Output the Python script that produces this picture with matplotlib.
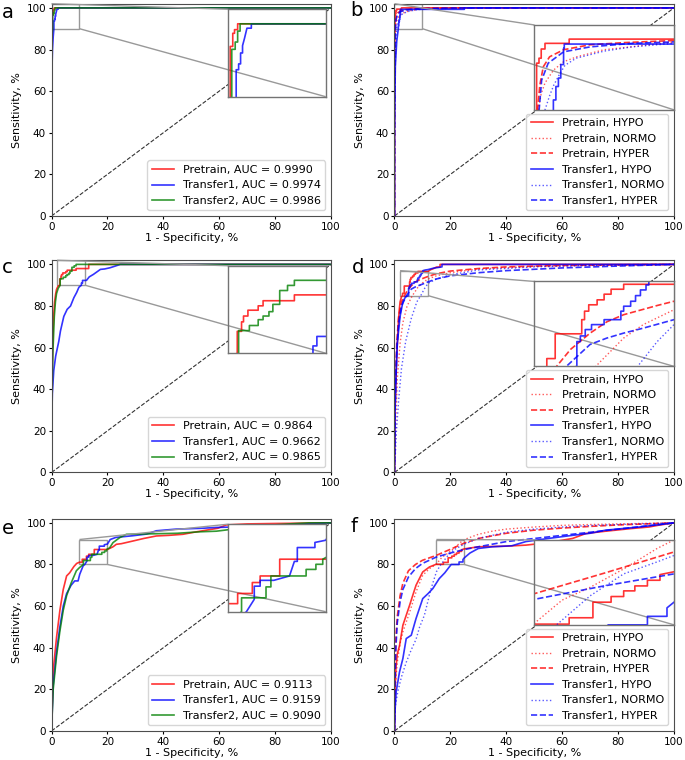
import matplotlib
matplotlib.use("Agg")
import matplotlib.pyplot as plt
from mpl_toolkits.axes_grid1.inset_locator import mark_inset

# ---- panel a ----
a_pre_fpr = [0, 0, 0.1, 0.24, 0.24, 0.5, 0.5, 0.68, 0.68, 1.0, 1.0, 100]
a_pre_tpr = [0, 70, 86, 90, 96.9, 96.9, 98.7, 98.7, 99.2, 99.2, 100, 100]
a_tr1_fpr = [0, 0, 0.15, 0.35, 0.6, 0.85, 0.85, 1.1, 1.1, 1.3, 1.3, 1.5, 1.5, 1.7, 1.95, 2.4, 2.4, 100]
a_tr1_tpr = [0, 63, 70, 80, 86, 90, 93.7, 93.7, 94.5, 94.5, 96, 96, 97, 98, 99.4, 99.4, 100, 100]
a_tr2_fpr = [0, 0, 0.05, 0.4, 0.4, 0.75, 0.75, 1.0, 1.0, 1.25, 1.25, 100]
a_tr2_tpr = [0, 78, 85, 90, 96.5, 96.5, 97.5, 97.5, 99.0, 99.0, 100, 100]

# ---- panel b ----
b_pre_hypo_fpr = [0, 0, 0.1, 0.17, 0.17, 0.34, 0.34, 0.5, 0.5, 0.77, 0.77, 2.5, 2.5, 100]
b_pre_hypo_tpr = [0, 75, 85, 90, 96.6, 96.6, 97.3, 97.3, 98.6, 98.6, 99.4, 99.4, 100, 100]
b_pre_normo_fpr = [0, 0.05, 0.15, 0.29, 0.5, 0.77, 1.37, 2.1, 3.05, 5, 6.9, 10, 15, 25, 40, 100]
b_pre_normo_tpr = [0, 55, 78, 90, 92.3, 93.8, 95.6, 96.8, 97.5, 98.5, 98.9, 99.6, 99.8, 99.9, 100, 100]
b_pre_hyper_fpr = [0, 0.03, 0.1, 0.2, 0.24, 0.4, 0.65, 1.1, 2.1, 4, 6.4, 10, 15, 25, 100]
b_pre_hyper_tpr = [0, 60, 80, 88, 90, 93.5, 96.1, 97.5, 98.5, 99.2, 99.5, 99.8, 99.9, 100, 100]
b_tr1_hypo_fpr = [0, 0, 0.3, 0.8, 1.37, 1.37, 1.55, 1.55, 1.73, 1.73, 1.9, 1.9, 2.1, 2.1, 2.15, 2.15, 25, 25, 100]
b_tr1_hypo_tpr = [0, 40, 72, 84, 90, 91.4, 91.4, 93.3, 93.3, 94.5, 94.5, 96.4, 96.4, 98.7, 98.7, 99.3, 99.3, 100, 100]
b_tr1_normo_fpr = [0, 0.05, 0.2, 0.4, 0.6, 0.77, 1.1, 1.4, 1.8, 2.2, 3, 5, 7, 10, 20, 40, 100]
b_tr1_normo_tpr = [0, 40, 65, 80, 86, 90, 92, 93.5, 95, 96.3, 97.3, 98.3, 98.9, 99.4, 99.8, 100, 100]
b_tr1_hyper_fpr = [0, 0.03, 0.1, 0.25, 0.35, 0.53, 1.0, 2.1, 4, 7, 10, 15, 25, 100]
b_tr1_hyper_tpr = [0, 50, 75, 86, 90, 94.2, 96.6, 98.2, 98.9, 99.4, 99.6, 99.8, 100, 100]

# ---- panel c ----
c_pre_fpr = [0, 0.1, 0.2, 0.4, 0.6, 0.8, 1.1, 1.5, 1.8, 2.3, 2.96, 2.96, 3.4, 3.4, 3.6, 3.6,
             4.05, 4.05, 5.1, 5.1, 5.6, 5.6, 8.8, 8.8, 13.3, 13.3, 100]
c_pre_tpr = [0, 30, 45, 60, 70, 76, 82, 86, 88, 89.5, 90, 93.0, 93.0, 94.3, 94.3, 95.1,
             95.1, 95.9, 95.9, 96.5, 96.5, 97.2, 97.2, 98.0, 98.0, 100, 100]
c_tr1_fpr = [0, 0.1, 0.3, 0.8, 1.5, 2.6, 3.2, 4.4, 5.6, 6.8, 8, 9, 9.8, 10.7, 10.7, 11.1, 11.1,
             12.5, 13.5, 15, 17.5, 19, 21, 23.5, 24.6, 100]
c_tr1_tpr = [0, 25, 38, 49, 56, 63, 68, 75, 78.4, 80, 84, 86.5, 89, 90, 91, 91, 92.3,
             92.3, 94, 95.2, 97.6, 97.8, 98.4, 99.5, 100, 100]
c_tr2_fpr = [0, 0.1, 0.3, 0.5, 0.8, 1.0, 1.4, 1.8, 2.4, 3.1, 3.1, 4.2, 4.2, 5.1, 5.1, 5.6, 5.6,
             6.2, 6.2, 6.6, 6.6, 7.3, 7.3, 8.1, 8.1, 8.8, 8.8, 100]
c_tr2_tpr = [0, 25, 45, 58, 68, 75, 82, 86, 88.5, 90, 93.1, 93.1, 93.8, 93.8, 94.6, 94.6, 95.1,
             95.1, 95.7, 95.7, 96.7, 96.7, 98.6, 98.6, 99.3, 99.3, 100, 100]

# ---- panel d ----
d_pre_hypo_fpr = [0, 0.2, 0.5, 0.8, 1.1, 1.4, 1.7, 2, 2.5, 2.9, 2.9, 3.5, 3.5, 5.4, 5.4, 5.6, 5.6,
                  5.9, 5.9, 6.5, 6.5, 7.0, 7.0, 7.5, 7.5, 8.4, 8.4, 12, 13, 14, 15, 16.3, 16.3, 100]
d_pre_hypo_tpr = [0, 30, 45, 56, 64, 72, 78, 82, 84.5, 85, 86.1, 86.1, 89.6, 89.6, 91.6, 91.6, 92.8,
                  92.8, 93.7, 93.7, 94.4, 94.4, 95.2, 95.2, 95.9, 95.9, 96.6, 96.6, 97.5, 98, 98.7, 98.7, 100, 100]
d_pre_normo_fpr = [0, 0.5, 1, 2, 3, 4.5, 6.4, 8.4, 9.8, 12, 15, 20, 30, 50, 70, 100]
d_pre_normo_tpr = [0, 25, 45, 62, 72, 80, 85, 89, 90.9, 93, 94.5, 96, 97.8, 99, 99.6, 100]
d_pre_hyper_fpr = [0, 0.3, 0.8, 1.5, 2.5, 3.6, 4.6, 6, 7.2, 8.4, 10.8, 12, 15, 20, 30, 40, 60, 80, 100]
d_pre_hyper_tpr = [0, 40, 62, 75, 82, 85, 87.4, 89.7, 91.3, 92.3, 93.6, 94.2, 95.5, 96.8, 98, 98.8, 99.5, 99.8, 100]
d_tr1_hypo_fpr = [0, 0.2, 0.5, 1, 2, 3, 4, 5.05, 5.05, 5.3, 5.3, 5.65, 5.65, 6.1, 6.1, 7, 7, 8.2, 8.2,
                  8.4, 8.4, 8.9, 8.9, 9.25, 9.25, 9.6, 9.6, 10, 10, 10.2, 10.2, 11, 12, 14, 17, 17, 100]
d_tr1_hypo_tpr = [0, 30, 45, 62, 75, 82, 84.5, 85, 88.5, 88.5, 89.3, 89.3, 90.2, 90.2, 90.9, 90.9, 91.6, 91.6, 92.8,
                  92.8, 93.5, 93.5, 94.2, 94.2, 95, 95, 95.8, 95.8, 96.5, 96.5, 97, 97.3, 97.5, 98.2, 98.8, 100, 100]
d_tr1_normo_fpr = [0, 0.7, 1.5, 2.5, 4, 6, 8, 9.4, 10.8, 12, 15, 20, 30, 50, 70, 100]
d_tr1_normo_tpr = [0, 20, 35, 50, 63, 74, 82, 85, 88.5, 90.9, 93, 95, 97.3, 98.8, 99.5, 100]
d_tr1_hyper_fpr = [0, 0.3, 0.8, 1.5, 2.5, 4.3, 6, 7.2, 8.4, 9.8, 12, 15, 20, 30, 40, 60, 80, 100]
d_tr1_hyper_tpr = [0, 35, 58, 72, 80, 85, 88.1, 89, 89.7, 90.4, 91.6, 93, 94.5, 96, 97, 98.3, 99.2, 100]

# ---- panel e ----
e_pre_fpr = [0, 0.6, 1.8, 3, 4.2, 5.4, 6.5, 8, 9, 10, 11, 11, 12.5, 12.5, 13.3, 13.3, 15.3, 15.3,
             20, 22, 23.2, 25, 29.2, 33, 37.5, 42, 47, 50.6, 55.4, 59.5, 62.5, 70, 80, 100]
e_pre_tpr = [0, 29, 45, 58, 68, 74.5, 76, 79, 80.5, 81.1, 81.1, 82.5, 82.5, 84, 84, 84.9, 84.9, 87.2,
             87.2, 88.5, 89.7, 90, 91.3, 92.5, 93.7, 94, 94.5, 95.4, 96.5, 97.4, 99, 99.5, 99.7, 100]
e_tr1_fpr = [0, 0.6, 1.8, 3, 4.2, 5.4, 7, 8.3, 9.5, 10.1, 11.3, 11.9, 12.7, 12.7, 13.3, 13.3, 14.7,
             16.3, 16.8, 17.1, 17.1, 18.9, 18.9, 20, 21, 23, 29, 34, 37.5, 44.6, 54, 59, 65, 77, 89, 100]
e_tr1_tpr = [0, 22, 38, 50, 60, 66, 70, 72.1, 72.1, 75.3, 79.3, 80, 81.7, 83.5, 83.5, 84.3, 84.3,
             84.9, 86.9, 86.9, 88.8, 88.8, 89.5, 89.8, 92, 93, 93.8, 94.6, 96.2, 97, 97.4, 97.8, 98, 98.6, 99.4, 100]
e_tr2_fpr = [0, 0.6, 1.8, 3, 4.2, 5.4, 7, 8.9, 10, 11.4, 11.4, 13.9, 13.9, 14.4, 14.4, 18, 18, 19, 19,
             19.7, 19.7, 20.8, 22, 24.4, 26.8, 35, 45, 53, 59, 65, 74, 85, 92, 100]
e_tr2_tpr = [0, 20, 36, 48, 58, 65, 71, 77, 78.5, 80, 81.9, 81.9, 83.4, 83.4, 84.9, 84.9, 85.8, 85.8, 86.5,
             86.5, 87.2, 88, 90.5, 92.9, 94.5, 94.7, 95, 95.7, 96, 97, 98.5, 99.5, 100, 100]

# ---- panel f ----
f_pre_hypo_fpr = [0, 0.2, 0.5, 1, 1.8, 3, 4.2, 5.4, 6.5, 7.7, 8.9, 10.1, 12.5, 14.9, 17.5, 17.5, 19.2, 19.2,
                  20.5, 20.5, 21.4, 21.4, 22.2, 22.2, 23.1, 23.1, 24, 24, 25, 30, 40, 47, 55, 63.7, 68.5,
                  75.6, 85, 91, 94.6, 100]
f_pre_hypo_tpr = [0, 20, 30, 37, 41, 50.8, 55.6, 60.4, 65, 70, 73.2, 76.4, 78.8, 80.1, 80.1, 81, 81, 83.2,
                  83.2, 84, 84, 84.8, 84.8, 85.5, 85.5, 86.3, 86.3, 87.1, 87.5, 88.5, 88.8, 89.3, 90.5, 92.5, 94.9,
                  96, 97.3, 98, 98.9, 100]
f_pre_normo_fpr = [0, 0.2, 0.5, 1, 2, 3, 5.4, 7.7, 10.1, 12.5, 15, 17, 19, 21.4, 23.8, 25, 30, 35, 40, 50, 60, 70, 80, 100]
f_pre_normo_tpr = [0, 15, 25, 33, 42, 47.6, 57, 66.8, 74.8, 78, 80.2, 83.5, 85.3, 87.9, 90.8, 92, 94.5, 96, 97,
                   98, 98.8, 99.2, 99.5, 100]
f_pre_hyper_fpr = [0, 0.2, 0.5, 1, 2, 3, 5, 7.5, 10, 15, 20, 25, 30, 40, 50, 60, 70, 80, 90, 100]
f_pre_hyper_tpr = [0, 30, 45, 55, 65, 71, 77, 80, 82, 84.4, 87.3, 90.3, 92.5, 95, 96.5, 97.5, 98.3, 99, 99.5, 100]
f_tr1_hypo_fpr = [0, 0.2, 0.6, 1.8, 3, 4.2, 6, 7.7, 10.1, 12, 13.7, 16, 18, 19.6, 20.3, 23.1, 23.1,
                  24.5, 24.5, 25, 27, 30, 35, 42, 47, 55, 63.7, 70, 75.6, 87.5, 100]
f_tr1_hypo_tpr = [0, 10, 18.8, 28.4, 34.8, 44.4, 46, 54, 63.6, 66, 68.4, 73.2, 76, 78.8, 80, 80, 81.2,
                  81.2, 82.4, 83.2, 85.5, 87.7, 88.5, 89, 91, 92.5, 94, 95, 96.5, 98, 100]
f_tr1_normo_fpr = [0, 0.3, 1.2, 2.5, 4.2, 6, 7.7, 9, 10.7, 13, 15, 16.6, 19, 21.4, 23.8, 25, 30, 40, 50,
                   60, 70, 80, 100]
f_tr1_normo_tpr = [0, 12, 19, 26, 33, 39, 44, 50, 55.6, 68, 76.5, 80, 84.1, 87.2, 88.9, 89.8, 92.5, 95.5, 97,
                   98, 98.7, 99.2, 100]
f_tr1_hyper_fpr = [0, 0.2, 0.5, 1, 2, 3, 5, 7.5, 10, 15, 20, 25, 30, 40, 50, 60, 70, 80, 90, 100]
f_tr1_hyper_tpr = [0, 25, 40, 52, 62, 68, 74, 78, 80.5, 83.6, 85.5, 87.2, 88.5, 91, 92.5, 94, 95.5, 97, 98.5, 100]

auc_a = ["0.9990", "0.9974", "0.9986"]
auc_c = ["0.9864", "0.9662", "0.9865"]
auc_e = ["0.9113", "0.9159", "0.9090"]
models3 = ["Pretrain", "Transfer1", "Transfer2"]
classes = ["HYPO", "NORMO", "HYPER"]

three_styles = [("red", "-"), ("blue", "-"), ("green", "-")]
six_styles = [("red", "-"), ("red", ":"), ("red", "--"), ("blue", "-"), ("blue", ":"), ("blue", "--")]


def six_labels():
    return [m + ", " + c for m in ["Pretrain", "Transfer1"] for c in classes]


def line_kw(col, ls):
    # dotted curves look thinner / lighter in the original
    if ls == ":":
        return dict(color=col, ls=ls, lw=1.0, alpha=0.65)
    return dict(color=col, ls=ls, lw=1.2, alpha=0.8)


def draw_panel(ax, curves, labels, styles, zoom, inset_pos):
    ax.plot([0, 100], [0, 100], "k--", lw=0.8, alpha=0.8)
    for (x, y), lab, (col, ls) in zip(curves, labels, styles):
        ax.plot(x, y, label=lab, **line_kw(col, ls))
    ax.set_xlim(0, 100)
    ax.set_ylim(0, 102)
    ax.set_xticks(range(0, 101, 20))
    ax.set_yticks(range(0, 101, 20))
    ax.tick_params(labelsize=7.5, length=2.5, pad=1.5)
    ax.set_xlabel("1 - Specificity, %", fontsize=8, labelpad=1)
    ax.set_ylabel("Sensitivity, %", fontsize=8, labelpad=3)
    for sp in ax.spines.values():
        sp.set_color("0.3")

    axins = ax.inset_axes(inset_pos)
    for (x, y), (col, ls) in zip(curves, styles):
        axins.plot(x, y, **line_kw(col, ls))
    axins.set_xlim(zoom[0], zoom[1])
    axins.set_ylim(zoom[2], zoom[3])
    axins.set_xticks([])
    axins.set_yticks([])
    for sp in axins.spines.values():
        sp.set_color("0.45")
        sp.set_linewidth(1.0)
    mark_inset(ax, axins, loc1=2, loc2=4, fc="none", ec="0.6", lw=1.0)

    leg = ax.legend(loc="lower right", fontsize=8)
    leg.set_zorder(10)


fig = plt.figure(figsize=(6.85, 7.6), dpi=100)
col_left = [0.0752, 0.5759]
row_bottom = [0.7158, 0.3783, 0.0382]
w, h = 0.408, 0.2793
small_inset = [0.631, 0.562, 0.35, 0.412]
wide_inset = [0.5, 0.5, 0.5, 0.4]

panels = [
    ("a", 0, 0, [(a_pre_fpr, a_pre_tpr), (a_tr1_fpr, a_tr1_tpr), (a_tr2_fpr, a_tr2_tpr)],
     [m + ", AUC = " + v for m, v in zip(models3, auc_a)], three_styles, (0, 10, 90, 102), small_inset),
    ("b", 0, 1, [(b_pre_hypo_fpr, b_pre_hypo_tpr), (b_pre_normo_fpr, b_pre_normo_tpr),
                 (b_pre_hyper_fpr, b_pre_hyper_tpr), (b_tr1_hypo_fpr, b_tr1_hypo_tpr),
                 (b_tr1_normo_fpr, b_tr1_normo_tpr), (b_tr1_hyper_fpr, b_tr1_hyper_tpr)],
     six_labels(), six_styles, (0, 10, 90, 102), wide_inset),
    ("c", 1, 0, [(c_pre_fpr, c_pre_tpr), (c_tr1_fpr, c_tr1_tpr), (c_tr2_fpr, c_tr2_tpr)],
     [m + ", AUC = " + v for m, v in zip(models3, auc_c)], three_styles, (2, 12, 90, 102), small_inset),
    ("d", 1, 1, [(d_pre_hypo_fpr, d_pre_hypo_tpr), (d_pre_normo_fpr, d_pre_normo_tpr),
                 (d_pre_hyper_fpr, d_pre_hyper_tpr), (d_tr1_hypo_fpr, d_tr1_hypo_tpr),
                 (d_tr1_normo_fpr, d_tr1_normo_tpr), (d_tr1_hyper_fpr, d_tr1_hyper_tpr)],
     six_labels(), six_styles, (2, 12, 85, 97), wide_inset),
    ("e", 2, 0, [(e_pre_fpr, e_pre_tpr), (e_tr1_fpr, e_tr1_tpr), (e_tr2_fpr, e_tr2_tpr)],
     [m + ", AUC = " + v for m, v in zip(models3, auc_e)], three_styles, (10, 20, 80, 92), small_inset),
    ("f", 2, 1, [(f_pre_hypo_fpr, f_pre_hypo_tpr), (f_pre_normo_fpr, f_pre_normo_tpr),
                 (f_pre_hyper_fpr, f_pre_hyper_tpr), (f_tr1_hypo_fpr, f_tr1_hypo_tpr),
                 (f_tr1_normo_fpr, f_tr1_normo_tpr), (f_tr1_hyper_fpr, f_tr1_hyper_tpr)],
     six_labels(), six_styles, (15, 25, 80, 92), wide_inset),
]

# letter positions in pixels (x, baseline y)
letter_px = {"a": (2, 18), "b": (350, 16), "c": (2, 273), "d": (352, 273), "e": (2, 534), "f": (350, 532)}

for letter, r, c, curves, labels, styles, zoom, inset_pos in panels:
    ax = fig.add_axes([col_left[c], row_bottom[r], w, h])
    draw_panel(ax, curves, labels, styles, zoom, inset_pos)
    px, py = letter_px[letter]
    fig.text(px / 685, 1 - py / 760, letter, fontsize=14, va="baseline", ha="left")

fig.savefig("out.png", dpi=100)
